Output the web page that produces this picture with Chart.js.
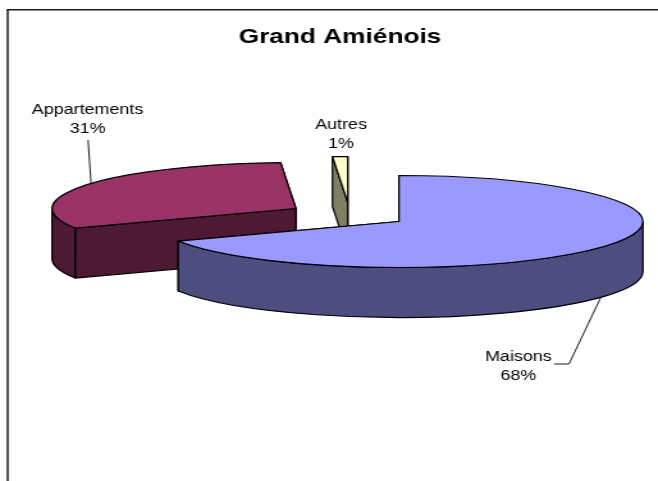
<!DOCTYPE html>
<html><head><meta charset="utf-8">
<style>html,body{margin:0;padding:0;background:#fff;overflow:hidden;width:658px;height:481px}
#c{transform:scale(1.28,1);transform-origin:0 0}</style>
<script src="https://cdn.jsdelivr.net/npm/chart.js@4/dist/chart.umd.min.js"></script>
</head><body><canvas id="c" width="514" height="481"></canvas>
<script>
const titleText = 'Grand Amiénois';
const categories = ['Maisons', 'Appartements', 'Autres'];
const shares = [68, 31, 1];
const topColors = ['#9999FF', '#993366', '#FFFFCC'];
const sideColors = ['#4D4D80', '#4D1933', '#808066'];

const SX = 1.28, TILT = 0.2413, DEPTH = 50;
const explodeX = [0, -80.5, -40], explodeY = [0, -13, -19];
const paintOrder = [1, 2, 0];
const labelX = [405, 68.4, 266.4], labelY = [357, 110, 125];
const leaders = [
  [[469.5, 297], [444.5, 364], [432.8, 364]],
  [[68.8, 140], [71.1, 183]],
  []
];

const pie3d = {
  id: 'pie3d',
  beforeDraw(chart) {
    const c = chart.ctx;
    c.save(); c.strokeStyle = '#1a1a1a';
    c.lineWidth = 1.5; c.beginPath(); c.moveTo(6, 9.5); c.lineTo(6, 481); c.stroke();
    c.lineWidth = 1.6; c.beginPath(); c.moveTo(5.3, 9.8); c.lineTo(514, 9.8); c.stroke();
    c.restore();
  },
  afterLayout(chart) {
    const t = chart.titleBlock;
    t.left -= 92.2; // centres the title where the original sits
  },
  beforeDatasetDraw(chart, args) {
    const c = chart.ctx, arcs = args.meta.data;
    paintOrder.forEach(i => {
      const a = arcs[i], R = a.outerRadius, ry = R * TILT;
      const cx = a.x + explodeX[i], cy = a.y + explodeY[i];
      const s = a.startAngle, e = a.endAngle;
      const px = t => cx + R * Math.cos(t), py = t => cy + ry * Math.sin(t);
      c.save();
      c.lineWidth = 1.2; c.strokeStyle = '#000'; c.lineJoin = 'round';
      c.fillStyle = sideColors[i];
      [e, s].forEach(t => {
        c.beginPath(); c.moveTo(cx, cy); c.lineTo(px(t), py(t));
        c.lineTo(px(t), py(t) + DEPTH); c.lineTo(cx, cy + DEPTH); c.closePath();
        c.fill(); c.stroke();
      });
      const a0 = Math.max(s, 0), a1 = Math.min(e, Math.PI);
      if (a1 > a0) {
        c.beginPath();
        c.ellipse(cx, cy, R, ry, 0, a0, a1);
        c.ellipse(cx, cy + DEPTH, R, ry, 0, a1, a0, true);
        c.closePath(); c.fill(); c.stroke();
      }
      c.save();
      c.translate(cx, cy); c.scale(1, TILT); c.translate(-a.x, -a.y);
      a.draw(c);
      c.restore();
      c.beginPath(); c.moveTo(cx, cy); c.ellipse(cx, cy, R, ry, 0, s, e); c.closePath(); c.stroke();
      c.restore();
    });
    return false;
  },
  afterDraw(chart) {
    const c = chart.ctx;
    c.save();
    c.fillStyle = '#000'; c.strokeStyle = '#000'; c.lineWidth = 0.9;
    c.font = '14px "Liberation Sans", Arial, sans-serif';
    c.textAlign = 'center'; c.textBaseline = 'middle';
    categories.forEach((name, i) => {
      c.fillText(name, labelX[i], labelY[i]);
      c.fillText(shares[i] + '%', labelX[i], labelY[i] + 19);
      if (leaders[i].length) {
        c.beginPath();
        leaders[i].forEach((p, k) => k ? c.lineTo(p[0], p[1]) : c.moveTo(p[0], p[1]));
        c.stroke();
      }
    });
    c.restore();
  }
};

new Chart(document.getElementById('c'), {
  type: 'pie',
  data: { labels: categories, datasets: [{ data: shares, backgroundColor: topColors, borderWidth: 0, radius: 190.6 }] },
  options: {
    responsive: false, animation: false, devicePixelRatio: 1,
    layout: { padding: { left: 109.4, right: 0, top: 0, bottom: 87.6 } },
    plugins: {
      legend: { display: false },
      tooltip: { enabled: false },
      title: { display: true, text: titleText, color: '#000',
        font: { family: '"Liberation Sans", Arial, sans-serif', size: 20.5, weight: 'bold' },
        padding: { top: 25, bottom: 0 } }
    }
  },
  plugins: [pie3d]
});
</script></body></html>
